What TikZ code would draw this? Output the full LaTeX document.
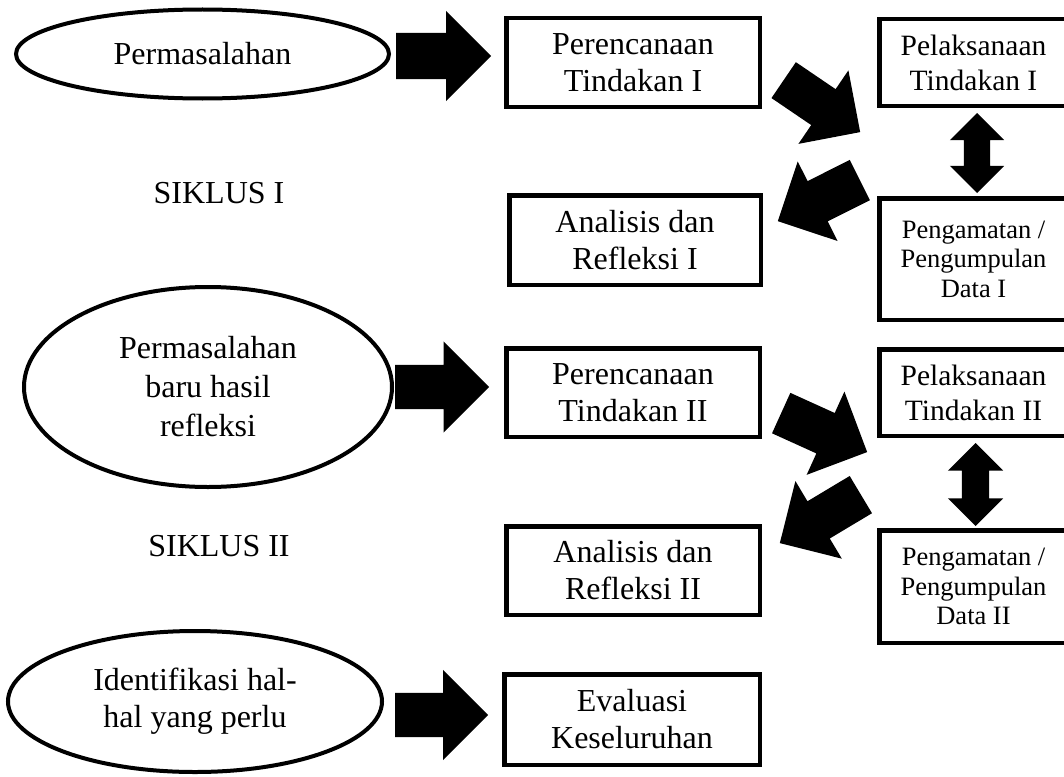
\documentclass[tikz,border=0pt]{standalone}
\usepackage{fontspec}
\setmainfont{Liberation Serif}
\usetikzlibrary{shapes.geometric,shapes.arrows}
\begin{document}
\begin{tikzpicture}[x=1pt,y=-1pt,
  box/.style={draw, line width=4.5pt, align=center, inner sep=0pt, font=\fontsize{32}{37}\selectfont},
  pelbox/.style={box, minimum width=188.5pt, minimum height=86.5pt, font=\fontsize{29.5}{35}\selectfont},
  pengbox/.style={box, minimum width=188.5pt, font=\fontsize{26.5}{29.5}\selectfont},
  oval/.style={draw, ellipse, line width=4pt, align=center, inner sep=0pt, font=\fontsize{32}{37}\selectfont},
  blk/.style={single arrow, fill=black, draw=none, inner xsep=0pt, anchor=tail, single arrow tip angle=90},
  dblk/.style={double arrow, fill=black, draw=none, inner xsep=0pt, double arrow tip angle=90, rotate=90},
  lbl/.style={anchor=base, inner sep=0pt, font=\fontsize{32}{37}\selectfont}
]
\useasboundingbox (0,0) rectangle (1064,776);
\clip (0,0) rectangle (1064,776);

% ---- Siklus I ----
\node[oval, minimum width=373pt, minimum height=89pt] (e1) at (202.5,54) {Permasalahan};
\node[box, minimum width=253.5pt, minimum height=88.5pt] (p1) at (633,62.5) {Perencanaan\\Tindakan I};
\node[pelbox] (pel1) at (973.5,62.5) {Pelaksanaan\\Tindakan I};
\node[pengbox, minimum height=121.5pt] (peng1) at (973.5,259) {Pengamatan /\\Pengumpulan\\Data I};
\node[box, minimum width=251.5pt, minimum height=89.5pt] (an1) at (635,240) {Analisis dan\\Refleksi I};
\node[lbl] (s1) at (219,203) {SIKLUS I};

\node[blk, minimum height=95pt, inner ysep=23pt, single arrow head extend=22pt] (a1) at (396,56) {};
\node[blk, rotate=-34.2, minimum height=92.5pt, inner ysep=21.5pt, single arrow head extend=22.75pt] (d1) at (783.5,80) {};
\node[dblk, minimum height=80pt, inner ysep=13pt, double arrow head extend=14pt] (v1) at (977,153) {};
\node[blk, rotate=206.6, minimum height=91.7pt, inner ysep=22.3pt, single arrow head extend=22pt] (d2) at (860,180) {};

% ---- Siklus II ----
\node[oval, minimum width=368pt, minimum height=200pt, font=\fontsize{32}{39}\selectfont] (e2) at (208,387) {Permasalahan\\baru hasil\\refleksi};
\node[box, minimum width=253.5pt, minimum height=88.5pt] (p2) at (633,392.5) {Perencanaan\\Tindakan II};
\node[pelbox] (pel2) at (973.5,392.5) {Pelaksanaan\\Tindakan II};
\node[pengbox, minimum height=112.5pt] (peng2) at (973.5,586.5) {Pengamatan /\\Pengumpulan\\Data II};
\node[box, minimum width=253.5pt, minimum height=88.5pt] (an2) at (633,570.5) {Analisis dan\\Refleksi II};
\node[lbl] (s2) at (219,556) {SIKLUS II};

\node[blk, minimum height=94pt, inner ysep=22pt, single arrow head extend=23.5pt] (a2) at (395,387) {};
\node[blk, rotate=-24.4, minimum height=94.4pt, inner ysep=22pt, single arrow head extend=23.5pt] (d3) at (781,413) {};
\node[dblk, minimum height=83pt, inner ysep=13.5pt, double arrow head extend=14pt] (v2) at (975.5,484.5) {};
\node[blk, rotate=210.9, minimum height=94.4pt, inner ysep=21.5pt, single arrow head extend=23.5pt] (d4) at (861,494.5) {};

% ---- Evaluasi ----
\node[oval, minimum width=374pt, minimum height=141pt] (e3) at (195,701.5) {Identifikasi hal-\\hal yang perlu};
\node[box, minimum width=255.5pt, minimum height=90.5pt] (ev) at (632,719.5) {Evaluasi\\Keseluruhan};
\node[blk, minimum height=93pt, inner ysep=22pt, single arrow head extend=23pt] (a3) at (395,715) {};
\end{tikzpicture}
\end{document}
